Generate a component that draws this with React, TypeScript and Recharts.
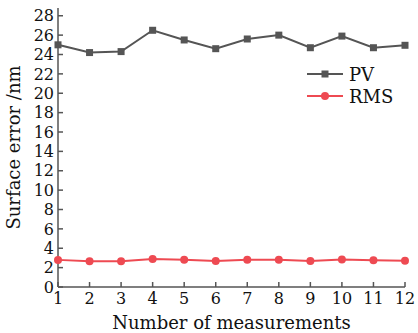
import React from 'react';
import { LineChart, Line, XAxis, YAxis } from 'recharts';

const measurements = [1, 2, 3, 4, 5, 6, 7, 8, 9, 10, 11, 12];
const pvValues = [25.0, 24.2, 24.3, 26.5, 25.5, 24.6, 25.6, 26.0, 24.7, 25.9, 24.7, 24.95];
const rmsValues = [2.8, 2.65, 2.65, 2.88, 2.82, 2.68, 2.82, 2.82, 2.68, 2.85, 2.75, 2.7];
const yTicks = [0, 2, 4, 6, 8, 10, 12, 14, 16, 18, 20, 22, 24, 26, 28];

const data = measurements.map((n, i) => ({ n, pv: pvValues[i], rms: rmsValues[i] }));

const PV_COLOR = '#555555';
const RMS_COLOR = '#ee4a52';
const AXIS_COLOR = '#555555';
const FONT = '"DejaVu Serif", serif';

const SquareDot = (props: any) => {
  const { cx, cy } = props;
  if (cx == null || cy == null) return null;
  return <rect x={cx - 3.5} y={cy - 3.5} width={7} height={7} fill={PV_COLOR} />;
};

const CircleDot = (props: any) => {
  const { cx, cy } = props;
  if (cx == null || cy == null) return null;
  return <circle cx={cx} cy={cy} r={4} fill={RMS_COLOR} />;
};

// legend drawn as an overlay so it doesn't eat into the plot area
const LegendBox = () => (
  <svg width={110} height={50} style={{ position: 'absolute', left: 305, top: 64 }}>
    <line x1={2} y1={10} x2={38} y2={10} stroke={PV_COLOR} strokeWidth={2} />
    <rect x={16.5} y={6.5} width={7} height={7} fill={PV_COLOR} />
    <text x={44} y={10} dominantBaseline="central" fontFamily={FONT} fontSize={18} fill="#111">PV</text>
    <line x1={2} y1={32} x2={38} y2={32} stroke={RMS_COLOR} strokeWidth={2} />
    <circle cx={20} cy={32} r={4} fill={RMS_COLOR} />
    <text x={44} y={32} dominantBaseline="central" fontFamily={FONT} fontSize={18} fill="#111">RMS</text>
  </svg>
);

export default function App() {
  const tickStyle = { fontFamily: FONT, fontSize: 16, fill: '#111' };
  const titleStyle = { fontFamily: FONT, fontSize: 18, fill: '#111' };
  return (
    <div style={{ position: 'absolute', left: 0, top: 0, width: 418, height: 333, background: '#fff' }}>
      <LineChart width={418} height={333} data={data} margin={{ top: 8, right: 13, left: 0, bottom: 0 }}>
        <XAxis
          xAxisId="b"
          dataKey="n"
          type="number"
          domain={[1, 12]}
          ticks={measurements}
          interval={0}
          height={46}
          stroke={AXIS_COLOR}
          strokeWidth={1.5}
          tickSize={-5}
          tickMargin={11}
          tick={tickStyle}
          label={{ value: 'Number of measurements', position: 'insideBottom', offset: 4, style: titleStyle }}
        />
        <XAxis xAxisId="t" orientation="top" dataKey="n" type="number" domain={[1, 12]} height={0} tick={false} tickLine={false} stroke={AXIS_COLOR} strokeWidth={1.5} />
        <YAxis
          yAxisId="l"
          domain={[0, 28.8]}
          ticks={yTicks}
          interval={0}
          width={58}
          stroke={AXIS_COLOR}
          strokeWidth={1.5}
          tickSize={-5}
          tickMargin={9}
          tick={tickStyle}
          label={{ value: 'Surface error /nm', angle: -90, position: 'insideLeft', offset: 14, style: { ...titleStyle, textAnchor: 'middle' } }}
        />
        <YAxis yAxisId="r" orientation="right" domain={[0, 28.8]} width={0} tick={false} tickLine={false} stroke={AXIS_COLOR} strokeWidth={1.5} />
        <Line xAxisId="b" yAxisId="l" dataKey="pv" name="PV" stroke={PV_COLOR} strokeWidth={2} dot={<SquareDot />} isAnimationActive={false} />
        <Line xAxisId="b" yAxisId="l" dataKey="rms" name="RMS" stroke={RMS_COLOR} strokeWidth={2} dot={<CircleDot />} isAnimationActive={false} />
      </LineChart>
      <LegendBox />
    </div>
  );
}
